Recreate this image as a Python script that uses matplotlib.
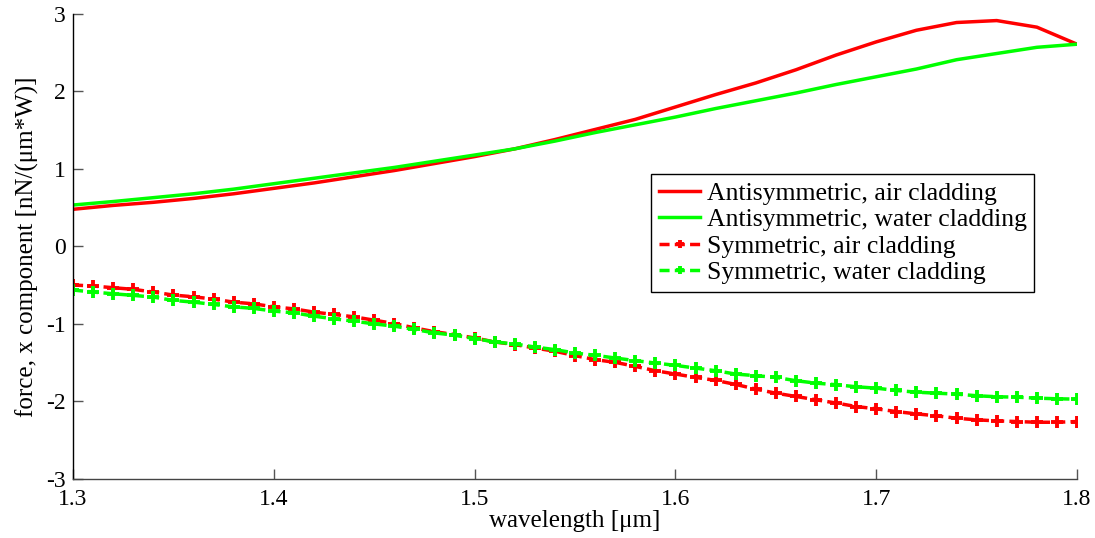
import numpy as np
import matplotlib
matplotlib.use("Agg")
import matplotlib.pyplot as plt

# Wavelength grids (µm)
wl_anti = [1.30, 1.32, 1.34, 1.36, 1.38, 1.40, 1.42, 1.44, 1.46, 1.48, 1.50, 1.52, 1.54,
           1.56, 1.58, 1.60, 1.62, 1.64, 1.66, 1.68, 1.70, 1.72, 1.74, 1.76, 1.78, 1.80]
wl_sym = [1.30, 1.31, 1.32, 1.33, 1.34, 1.35, 1.36, 1.37, 1.38, 1.39, 1.40, 1.41, 1.42,
          1.43, 1.44, 1.45, 1.46, 1.47, 1.48, 1.49, 1.50, 1.51, 1.52, 1.53, 1.54, 1.55,
          1.56, 1.57, 1.58, 1.59, 1.60, 1.61, 1.62, 1.63, 1.64, 1.65, 1.66, 1.67, 1.68,
          1.69, 1.70, 1.71, 1.72, 1.73, 1.74, 1.75, 1.76, 1.77, 1.78, 1.79, 1.80]

# Force, x component [nN/(µm*W)]
anti_air = [0.48, 0.53, 0.57, 0.62, 0.68, 0.75, 0.82, 0.90, 0.98, 1.07, 1.16, 1.26, 1.38,
            1.51, 1.64, 1.80, 1.96, 2.11, 2.28, 2.47, 2.64, 2.79, 2.89, 2.915, 2.83, 2.61]
anti_water = [0.535, 0.58, 0.63, 0.68, 0.74, 0.81, 0.88, 0.95, 1.02, 1.10, 1.18, 1.26, 1.36,
              1.47, 1.57, 1.67, 1.78, 1.88, 1.98, 2.09, 2.19, 2.29, 2.41, 2.49, 2.57, 2.61]
sym_air = [-0.497, -0.510, -0.532, -0.553, -0.588, -0.627, -0.649, -0.679, -0.718, -0.740,
           -0.779, -0.805, -0.847, -0.877, -0.908, -0.951, -0.994, -1.05, -1.10, -1.136,
           -1.18, -1.232, -1.266, -1.31, -1.352, -1.408, -1.46, -1.495, -1.547, -1.603,
           -1.646, -1.689, -1.728, -1.78, -1.84, -1.893, -1.935, -1.978, -2.02, -2.065,
           -2.095, -2.13, -2.16, -2.185, -2.216, -2.237, -2.25, -2.259, -2.268, -2.268, -2.259]
sym_water = [-0.562, -0.588, -0.610, -0.631, -0.653, -0.696, -0.718, -0.748, -0.779, -0.799,
             -0.834, -0.856, -0.899, -0.934, -0.964, -0.999, -1.028, -1.071, -1.115, -1.145,
             -1.188, -1.232, -1.258, -1.297, -1.331, -1.375, -1.404, -1.439, -1.473, -1.504,
             -1.534, -1.569, -1.603, -1.646, -1.667, -1.689, -1.732, -1.763, -1.784, -1.81,
             -1.828, -1.858, -1.88, -1.893, -1.905, -1.926, -1.939, -1.944, -1.957, -1.965, -1.970]

labels = ["Antisymmetric, air cladding", "Antisymmetric, water cladding",
          "Symmetric, air cladding", "Symmetric, water cladding"]
xticks = [1.3, 1.4, 1.5, 1.6, 1.7, 1.8]
yticks = [-3, -2, -1, 0, 1, 2, 3]

plt.rcParams["font.family"] = ["Liberation Serif", "DejaVu Serif"]

fig = plt.figure(figsize=(10.95, 5.38), dpi=100)
ax = fig.add_axes([0.0667, 0.1097, 0.9169, 0.8643])

red = "#ff0000"
green = "#00ff00"
lw = 2.5
dash = (0, (2.9, 1.5))

ax.plot(wl_anti, anti_air, color=red, lw=lw, label=labels[0])
ax.plot(wl_anti, anti_water, color=green, lw=lw, label=labels[1])
ax.plot(wl_sym, sym_air, color=red, lw=lw, linestyle=dash, marker="+",
        markersize=9, markeredgewidth=2.8, label=labels[2])
ax.plot(wl_sym, sym_water, color=green, lw=lw, linestyle=dash, marker="+",
        markersize=9, markeredgewidth=2.8, label=labels[3])

ax.set_xlim(1.3, 1.8)
ax.set_ylim(-3, 3)
ax.set_xticks(xticks)
ax.set_yticks(yticks)
ax.set_xticklabels([f"{t:g}" for t in xticks])
ax.set_yticklabels([f"{t:g}" for t in yticks])

for side in ("top", "right"):
    ax.spines[side].set_visible(False)
ax.spines["left"].set_color("black")
ax.spines["bottom"].set_color("#444444")
ax.spines["left"].set_linewidth(1.0)
ax.spines["bottom"].set_linewidth(1.0)

ax.tick_params(direction="in", length=7, width=1, colors="#555555",
               labelcolor="black", labelsize=17)
ax.tick_params(axis="x", pad=7)
ax.tick_params(axis="y", pad=5)

ax.set_xlabel("wavelength [μm]", fontsize=18, labelpad=0)
ax.set_ylabel("force, x component [nN/(μm*W)]", fontsize=18, labelpad=5)

leg = ax.legend(loc="upper left", bbox_to_anchor=(0.576, 0.655), fontsize=18.5,
                frameon=True, fancybox=False, framealpha=1, edgecolor="black",
                handlelength=1.6, handletextpad=0.25, labelspacing=0.13,
                borderpad=0.3, borderaxespad=0.0)
leg.get_frame().set_linewidth(1.0)
for h in leg.legend_handles:
    h.set_markersize(6)

fig.savefig("out.png", dpi=100)
